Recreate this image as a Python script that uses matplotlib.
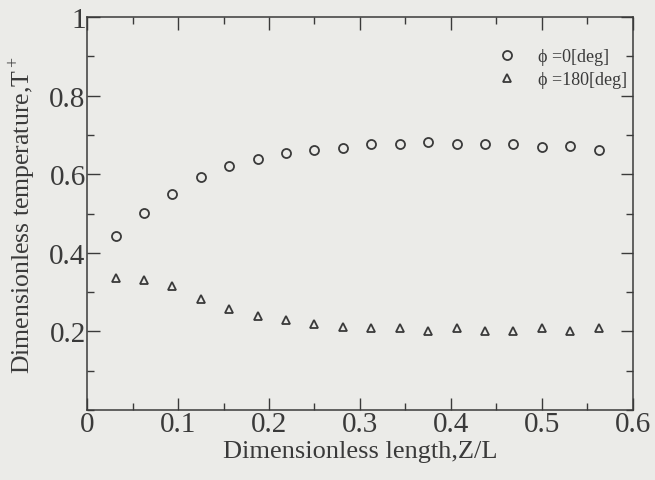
import matplotlib.pyplot as plt
from matplotlib.ticker import MultipleLocator

# Values
z_over_l = [0.03125, 0.0625, 0.09375, 0.125, 0.15625, 0.1875, 0.21875, 0.25, 0.28125,
            0.3125, 0.34375, 0.375, 0.40625, 0.4375, 0.46875, 0.5, 0.53125, 0.5625]
t_phi0 = [0.443, 0.501, 0.550, 0.594, 0.621, 0.638, 0.655, 0.662, 0.666,
          0.677, 0.676, 0.682, 0.676, 0.676, 0.676, 0.670, 0.673, 0.661]
t_phi180 = [0.336, 0.332, 0.315, 0.283, 0.256, 0.238, 0.229, 0.219, 0.212,
            0.208, 0.208, 0.202, 0.208, 0.202, 0.202, 0.208, 0.202, 0.208]

ink = '#3a3a3a'
paper = '#ebebe8'

plt.rcParams['font.family'] = ['Liberation Serif', 'DejaVu Serif']
plt.rcParams['mathtext.fontset'] = 'custom'
plt.rcParams['mathtext.rm'] = 'Liberation Serif'

fig = plt.figure(figsize=(6.55, 4.81), dpi=100, facecolor=paper)
ax = fig.add_axes([0.133, 0.1455, 0.833, 0.817])
ax.set_facecolor(paper)

ax.plot(z_over_l, t_phi0, linestyle='none', marker='o', markersize=6.5,
        markerfacecolor='none', markeredgecolor=ink, markeredgewidth=1.3,
        label='ϕ =0[deg]')
ax.plot(z_over_l, t_phi180, linestyle='none', marker='^', markersize=6,
        markerfacecolor='none', markeredgecolor=ink, markeredgewidth=1.3,
        label='ϕ =180[deg]')

ax.set_xlim(0, 0.6)
ax.set_ylim(0, 1)
ax.xaxis.set_minor_locator(MultipleLocator(0.05))
ax.yaxis.set_minor_locator(MultipleLocator(0.1))
ax.set_xticks([0, 0.1, 0.2, 0.3, 0.4, 0.5, 0.6])
ax.set_xticklabels(['0', '0.1', '0.2', '0.3', '0.4', '0.5', '0.6'])
ax.set_yticks([0.2, 0.4, 0.6, 0.8, 1.0])
ax.set_yticklabels(['0.2', '0.4', '0.6', '0.8', '1'])

ax.tick_params(which='both', direction='in', top=True, right=True,
               color=ink, labelcolor=ink, width=1.0)
ax.tick_params(which='major', length=9, labelsize=21)
ax.tick_params(axis='x', which='major', pad=1)
ax.tick_params(axis='y', which='major', pad=1)
ax.tick_params(which='minor', length=5)
for s in ax.spines.values():
    s.set_color(ink)
    s.set_linewidth(1.1)

ax.set_xlabel('Dimensionless length,Z/L', fontsize=19, color=ink, labelpad=2)
ax.set_ylabel('Dimensionless temperature,T$^+$', fontsize=18.5, color=ink, labelpad=8)

ax.legend(loc='upper right', bbox_to_anchor=(0.989, 0.921), frameon=False,
          fontsize=13, labelcolor=ink, borderpad=0, borderaxespad=0,
          handlelength=2.0, handletextpad=0.67, labelspacing=0.35)

plt.savefig('out.png', dpi=100, facecolor=paper)
